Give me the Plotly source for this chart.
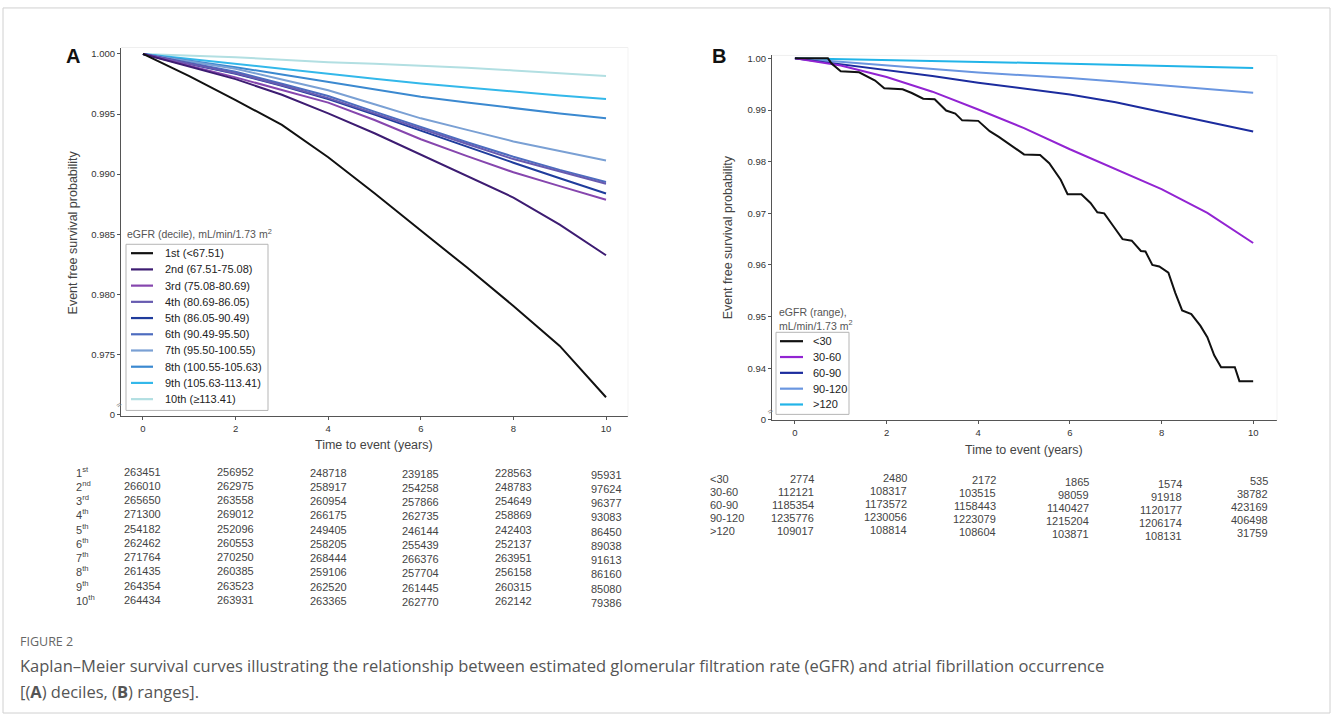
import plotly.graph_objects as go

W, H = 1333, 720
def px(x): return x / W
def py(y): return 1 - y / H

# ---------------- Panel A data (deciles) ----------------
years_a = [0, 1, 2, 3, 4, 5, 6, 7, 8, 9, 10]
surv_d1 = [1.0, 0.99815, 0.99615, 0.99410, 0.99140, 0.98840, 0.98530, 0.98222, 0.97903, 0.97570, 0.97143]
surv_d2 = [1.0, 0.99895, 0.99790, 0.99660, 0.99505, 0.99340, 0.99162, 0.98985, 0.98805, 0.98580, 0.98325]
surv_d3 = [1.0, 0.99905, 0.99805, 0.99700, 0.99595, 0.99450, 0.99290, 0.99150, 0.99015, 0.98900, 0.98786]
surv_d4 = [1.0, 0.99922, 0.99840, 0.99740, 0.99632, 0.99505, 0.99375, 0.99250, 0.99125, 0.99020, 0.98920]
surv_d5 = [1.0, 0.99920, 0.99835, 0.99735, 0.99625, 0.99495, 0.99360, 0.99225, 0.99095, 0.98965, 0.98838]
surv_d6 = [1.0, 0.99928, 0.99852, 0.99752, 0.99650, 0.99520, 0.99390, 0.99265, 0.99145, 0.99035, 0.98935]
surv_d7 = [1.0, 0.99938, 0.99876, 0.99787, 0.99698, 0.99581, 0.99464, 0.99368, 0.99272, 0.99192, 0.99113]
surv_d8 = [1.0, 0.99945, 0.99890, 0.99828, 0.99766, 0.99705, 0.99643, 0.99595, 0.99547, 0.99505, 0.99464]
surv_d9 = [1.0, 0.99960, 0.99918, 0.99877, 0.99835, 0.99794, 0.99753, 0.99718, 0.99684, 0.99654, 0.99624]
surv_d10 = [1.0, 0.99988, 0.99973, 0.99952, 0.99931, 0.99918, 0.99904, 0.99884, 0.99863, 0.99840, 0.99816]

names_a = ["1st (<67.51)", "2nd (67.51-75.08)", "3rd (75.08-80.69)", "4th (80.69-86.05)",
           "5th (86.05-90.49)", "6th (90.49-95.50)", "7th (95.50-100.55)", "8th (100.55-105.63)",
           "9th (105.63-113.41)", "10th (\u2265113.41)"]
colors_a = ["#111111", "#3d1c72", "#8646ae", "#675bb0", "#1f3c9c", "#4d6cbf",
            "#7aa0d4", "#3b89d0", "#33b8ea", "#b2dfe2"]

risk_times = [0, 2, 4, 6, 8, 10]
row_labels_a = ["1<sup>st</sup>", "2<sup>nd</sup>", "3<sup>rd</sup>", "4<sup>th</sup>", "5<sup>th</sup>",
                "6<sup>th</sup>", "7<sup>th</sup>", "8<sup>th</sup>", "9<sup>th</sup>", "10<sup>th</sup>"]
risk_d1 = [263451, 256952, 248718, 239185, 228563, 95931]
risk_d2 = [266010, 262975, 258917, 254258, 248783, 97624]
risk_d3 = [265650, 263558, 260954, 257866, 254649, 96377]
risk_d4 = [271300, 269012, 266175, 262735, 258869, 93083]
risk_d5 = [254182, 252096, 249405, 246144, 242403, 86450]
risk_d6 = [262462, 260553, 258205, 255439, 252137, 89038]
risk_d7 = [271764, 270250, 268444, 266376, 263951, 91613]
risk_d8 = [261435, 260385, 259106, 257704, 256158, 86160]
risk_d9 = [264354, 263523, 262520, 261445, 260315, 85080]
risk_d10 = [264434, 263931, 263365, 262770, 262142, 79386]

# ---------------- Panel B data (ranges) ----------------
years_b = [0, 1, 2, 3, 4, 5, 6, 7, 8, 9, 10]
lt30_t = [0, 0.72, 0.8, 1.0, 1.4, 1.55, 1.75, 1.95, 2.35, 2.55, 2.8, 3.05, 3.3, 3.5, 3.65, 4.0,
          4.25, 4.45, 4.75, 5.0, 5.35, 5.55, 5.8, 5.95, 6.25, 6.45, 6.6, 6.75, 6.95, 7.15, 7.35,
          7.55, 7.65, 7.8, 7.95, 8.15, 8.3, 8.45, 8.65, 8.85, 9.0, 9.15, 9.3, 9.6, 9.7, 10.0]
lt30_s = [1.0, 1.0, 0.9990, 0.9975, 0.9973, 0.9966, 0.9957, 0.9942, 0.9940, 0.9933, 0.9922, 0.9921,
          0.9899, 0.9893, 0.9880, 0.9879, 0.9859, 0.9848, 0.9829, 0.9814, 0.9813, 0.9797, 0.9765,
          0.9737, 0.9737, 0.9720, 0.9702, 0.9700, 0.9675, 0.9650, 0.9647, 0.9627, 0.9626, 0.9600,
          0.9597, 0.9585, 0.9546, 0.9512, 0.9505, 0.9482, 0.9460, 0.9425, 0.9402, 0.9402, 0.9375, 0.9375]
s30_60 = [1.0, 0.99860, 0.99640, 0.99355, 0.99010, 0.98650, 0.98240, 0.97860, 0.97470, 0.97010, 0.96426]
s60_90 = [1.0, 0.99890, 0.99770, 0.99660, 0.99530, 0.99420, 0.99300, 0.99150, 0.98960, 0.98780, 0.98583]
s90_120 = [1.0, 0.99930, 0.99860, 0.99792, 0.99725, 0.99672, 0.99620, 0.99550, 0.99480, 0.99408, 0.99336]
sgt120 = [1.0, 0.99985, 0.99970, 0.99952, 0.99935, 0.99915, 0.99895, 0.99875, 0.99855, 0.99835, 0.99815]

names_b = ["<30", "30-60", "60-90", "90-120", ">120"]
colors_b = ["#111111", "#9224d2", "#1c2c9e", "#6a96e0", "#22b4e8"]

risk_lt30 = [2774, 2480, 2172, 1865, 1574, 535]
risk_30_60 = [112121, 108317, 103515, 98059, 91918, 38782]
risk_60_90 = [1185354, 1173572, 1158443, 1140427, 1120177, 423169]
risk_90_120 = [1235776, 1230056, 1223079, 1215204, 1206174, 406498]
risk_gt120 = [109017, 108814, 108604, 103871, 108131, 31759]

ticks_a = [0.970, 0.975, 0.980, 0.985, 0.990, 0.995, 1.000]
ticktext_a = ["0", "0.975", "0.980", "0.985", "0.990", "0.995", "1.000"]
ticks_b = [0.93, 0.94, 0.95, 0.96, 0.97, 0.98, 0.99, 1.00]
ticktext_b = ["0", "0.94", "0.95", "0.96", "0.97", "0.98", "0.99", "1.00"]
xticks = [0, 2, 4, 6, 8, 10]

FONT = "Liberation Sans, Arial, sans-serif"

def esc(s):
    return s.replace("<", "&lt;").replace(">", "&gt;")

fig = go.Figure()

series_a = [surv_d1, surv_d2, surv_d3, surv_d4, surv_d5, surv_d6, surv_d7, surv_d8, surv_d9, surv_d10]
for name, s, c in reversed(list(zip(names_a, series_a, colors_a))):
    fig.add_trace(go.Scatter(x=years_a, y=s, mode="lines", name=name,
                             line=dict(color=c, width=2), xaxis="x", yaxis="y", showlegend=False))

series_b = [(lt30_t, lt30_s), (years_b, s30_60), (years_b, s60_90), (years_b, s90_120), (years_b, sgt120)]
for name, (t, s), c in reversed(list(zip(names_b, series_b, colors_b))):
    fig.add_trace(go.Scatter(x=t, y=s, mode="lines", name=name,
                             line=dict(color=c, width=2), xaxis="x2", yaxis="y2", showlegend=False))

axis_common = dict(showgrid=False, zeroline=False, showline=True, linecolor="#555555", linewidth=1.2,
                   ticks="outside", ticklen=3, tickcolor="#555555", tickwidth=1,
                   tickfont=dict(family=FONT, size=9.5, color="#333333"))

fig.update_layout(
    width=W, height=H, margin=dict(l=0, r=0, t=0, b=0),
    paper_bgcolor="white", plot_bgcolor="white", showlegend=False,
    xaxis=dict(domain=[px(121), px(628)], range=[-0.475, 10.475], tickvals=xticks, anchor="y", **axis_common),
    yaxis=dict(domain=[py(418), py(45)], range=[0.96984, 1.000535], tickvals=ticks_a, ticktext=ticktext_a,
               anchor="x", **axis_common),
    xaxis2=dict(domain=[px(772), px(1277)], range=[-0.5, 10.52], tickvals=xticks, anchor="y2", **axis_common),
    yaxis2=dict(domain=[py(422), py(53)], range=[0.92992, 1.000574], tickvals=ticks_b, ticktext=ticktext_b,
                anchor="x2", **axis_common),
)

ann = []
shapes = []

# panel letters
ann.append(dict(x=px(73), y=py(54), xref="paper", yref="paper", text="<b>A</b>", showarrow=False,
                font=dict(family=FONT, size=20, color="#111"), xanchor="center", yanchor="middle"))
ann.append(dict(x=px(719), y=py(54), xref="paper", yref="paper", text="<b>B</b>", showarrow=False,
                font=dict(family=FONT, size=20, color="#111"), xanchor="center", yanchor="middle"))

# axis titles
for xc, yc in [(73, 232), (728, 237)]:
    ann.append(dict(x=px(xc), y=py(yc), xref="paper", yref="paper", text="Event free survival probability",
                    textangle=-90, showarrow=False, font=dict(family=FONT, size=12.5, color="#444"),
                    xanchor="center", yanchor="middle"))
for xc, yc in [(374, 447), (1024, 452)]:
    ann.append(dict(x=px(xc), y=py(yc), xref="paper", yref="paper", text="Time to event (years)",
                    showarrow=False, font=dict(family=FONT, size=12.5, color="#444"),
                    xanchor="center", yanchor="middle"))

# axis break marks
for xc, yc in [(119, 407), (771, 413)]:
    ann.append(dict(x=px(xc), y=py(yc), xref="paper", yref="paper", text="\u2248", textangle=-40,
                    showarrow=False, font=dict(family=FONT, size=9, color="#888"),
                    xanchor="center", yanchor="middle"))

# plot-area faint frame (top/right)
for (x0, y0, x1, y1) in [(121, 45, 628, 418), (772, 53, 1277, 422)]:
    shapes.append(dict(type="line", xref="paper", yref="paper", x0=px(x0), x1=px(x1), y0=py(y0), y1=py(y0),
                       line=dict(color="#efefef", width=1)))
    shapes.append(dict(type="line", xref="paper", yref="paper", x0=px(x1), x1=px(x1), y0=py(y0), y1=py(y1),
                       line=dict(color="#f3f3f3", width=1)))

# ---- Legend A (manual) ----
ann.append(dict(x=px(125), y=py(233), xref="paper", yref="paper",
                text="eGFR (decile), mL/min/1.73 m<sup>2</sup>", showarrow=False,
                font=dict(family=FONT, size=10.5, color="#555"), xanchor="left", yanchor="middle"))
shapes.append(dict(type="rect", xref="paper", yref="paper", x0=px(126), x1=px(268), y0=py(244), y1=py(412),
                   line=dict(color="#b5b5b5", width=1), fillcolor="rgba(255,255,255,0.9)", layer="above"))
for i, (name, c) in enumerate(zip(names_a, colors_a)):
    yy = 253 + 16.4 * i
    shapes.append(dict(type="line", xref="paper", yref="paper", x0=px(131), x1=px(153), y0=py(yy), y1=py(yy),
                       line=dict(color=c, width=2.2), layer="above"))
    ann.append(dict(x=px(163), y=py(yy), xref="paper", yref="paper", text=esc(name), showarrow=False,
                    font=dict(family=FONT, size=11, color="#222"), xanchor="left", yanchor="middle"))

# ---- Legend B (manual) ----
ann.append(dict(x=px(777), y=py(320), xref="paper", yref="paper",
                text="eGFR (range),<br>mL/min/1.73 m<sup>2</sup>", showarrow=False, align="left",
                font=dict(family=FONT, size=10.5, color="#555"), xanchor="left", yanchor="middle"))
shapes.append(dict(type="rect", xref="paper", yref="paper", x0=px(776), x1=px(849), y0=py(333), y1=py(416),
                   line=dict(color="#b5b5b5", width=1), fillcolor="rgba(255,255,255,0.9)", layer="above"))
for i, (name, c) in enumerate(zip(names_b, colors_b)):
    yy = 342 + 16 * i
    shapes.append(dict(type="line", xref="paper", yref="paper", x0=px(780), x1=px(803), y0=py(yy), y1=py(yy),
                       line=dict(color=c, width=2.2), layer="above"))
    ann.append(dict(x=px(811), y=py(yy), xref="paper", yref="paper", text=esc(name), showarrow=False,
                    font=dict(family=FONT, size=11, color="#222"), xanchor="left", yanchor="middle"))

# ---- Risk table A ----
risk_a = [risk_d1, risk_d2, risk_d3, risk_d4, risk_d5, risk_d6, risk_d7, risk_d8, risk_d9, risk_d10]
col_shift_a = [0, 0, -1, -2, -1, -3]
for i, (lab, row) in enumerate(zip(row_labels_a, risk_a)):
    yy = 474 + 14.4 * i
    ann.append(dict(x=px(74), y=py(yy), xref="paper", yref="paper", text=lab, showarrow=False,
                    font=dict(family=FONT, size=11, color="#444"), xanchor="left", yanchor="middle"))
    for j, (t, v) in enumerate(zip(risk_times, row)):
        ann.append(dict(x=t, y=py(yy), xref="x", yref="paper", text=str(v), showarrow=False,
                        yshift=col_shift_a[j], font=dict(family=FONT, size=11, color="#444"),
                        xanchor="center", yanchor="middle"))

# ---- Risk table B ----
risk_b = [risk_lt30, risk_30_60, risk_60_90, risk_90_120, risk_gt120]
col_shift_b = [0, 1, -1, -3, -5, -2]
col_xshift_b = [21, 22, 20, 21, 22, 17]
for i, (lab, row) in enumerate(zip(names_b, risk_b)):
    yy = 481 + 13.2 * i
    ann.append(dict(x=px(708), y=py(yy), xref="paper", yref="paper", text=esc(lab), showarrow=False,
                    font=dict(family=FONT, size=11, color="#444"), xanchor="left", yanchor="middle"))
    for j, (t, v) in enumerate(zip(risk_times, row)):
        ann.append(dict(x=t, y=py(yy), xref="x2", yref="paper", text=str(v), showarrow=False,
                        xshift=col_xshift_b[j], yshift=col_shift_b[j],
                        font=dict(family=FONT, size=11, color="#444"),
                        xanchor="right", yanchor="middle"))

# ---- Caption ----
CAP = "Open Sans, Noto Sans, sans-serif"
ann.append(dict(x=px(18), y=py(646), xref="paper", yref="paper", text="FIGURE 2", showarrow=False,
                font=dict(family=CAP, size=12.5, color="#666"), xanchor="left", yanchor="middle"))
ann.append(dict(x=px(18), y=py(670), xref="paper", yref="paper",
                text="Kaplan\u2013Meier survival curves illustrating the relationship between estimated glomerular "
                     "filtration rate (eGFR) and atrial fibrillation occurrence",
                showarrow=False, font=dict(family=CAP, size=16.5, color="#555"), xanchor="left", yanchor="middle"))
ann.append(dict(x=px(18), y=py(696), xref="paper", yref="paper",
                text="[(<b>A</b>) deciles, (<b>B</b>) ranges].",
                showarrow=False, font=dict(family=CAP, size=16.5, color="#555"), xanchor="left", yanchor="middle"))

# outer frame
shapes.append(dict(type="rect", xref="paper", yref="paper", x0=px(3), x1=px(1330), y0=py(5), y1=py(718),
                   line=dict(color="#d0d0d0", width=1)))

fig.update_layout(annotations=ann, shapes=shapes)
fig.write_html("out.html", config={"displayModeBar": False},
               post_script="document.body.style.margin='0';document.body.style.padding='0';"
                           "document.body.style.overflow='hidden';")
